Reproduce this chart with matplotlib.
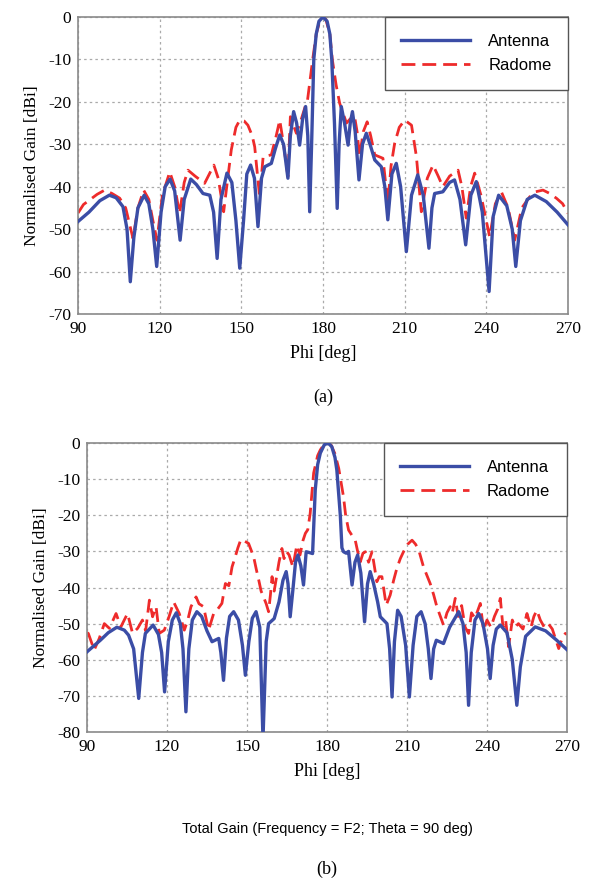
import matplotlib
matplotlib.use("Agg")
import matplotlib.pyplot as plt

plt.rcParams["axes.unicode_minus"] = False

# Panel (a) - antenna
phi_a_ant = [90, 94, 98, 101.5, 104, 106.5, 108, 109.2, 110.5, 112, 114.3, 116, 117.5, 118.9,
             120.5, 122, 123.8, 125.5, 127.5, 129, 131.4, 133.5, 135.9, 138.4, 139.8, 141.1,
             142.5, 144.7, 146.5, 148, 149.4, 150.8, 152, 153.4, 154.8, 156.1, 157.4, 158.6,
             161, 162.5, 164.1, 165.5, 167.1, 168, 169.2, 170.3, 171.4, 172.5, 173.6, 174.4,
             175.1, 175.8, 176.6, 177.5, 178.5, 180, 181.5, 182.5, 183.2, 184.2, 185.2, 185.9,
             186.7, 187.9, 189.2, 190, 190.8, 191.8, 193.2, 194.5, 195.9, 197.5, 199, 201.4,
             202.7, 203.8, 205.3, 206.9, 208.5, 210.6, 212.5, 214.8, 216.8, 218.9, 220, 221,
             224, 226.5, 228.3, 230.3, 232.4, 234.3, 236.3, 238.5, 241, 242.5, 244.5, 247.5,
             249.5, 250.8, 252.5, 255, 257.8, 262, 266, 270]
gain_a_ant = [-48.2, -46, -43.3, -42, -42.6, -44.7, -50, -62.4, -52, -45, -42, -44, -50, -58.8,
              -46, -40, -38.2, -41, -52.6, -43, -38.2, -39.5, -41.6, -42, -46, -56.9,
              -43, -36.8, -39, -48, -59.2, -48, -37, -34.9, -38, -49.4, -38, -35.3,
              -34.5, -31, -27.8, -30, -38, -28, -22.3, -25, -30.2, -24, -21.1, -28,
              -45.9, -30, -10, -4, -1, 0, -1, -4, -10, -25, -45.1, -30,
              -21.1, -25, -30.2, -25, -22.3, -27, -38.4, -30, -27.4, -30.5, -33.7, -35.3,
              -40, -47.8, -37, -34.5, -40, -55.3, -42, -37.2, -42, -54.5, -45, -41.6,
              -41.2, -39, -38.4, -43, -53.7, -42, -38.8, -46, -64.7, -47, -42, -44.5,
              -50, -58.8, -48, -43, -42, -43.5, -46, -49]

# Panel (a) - radome
phi_a_rad = [90, 92, 94.3, 97, 99.8, 102.5, 105.3, 107.5, 110.2, 112, 114.1, 116, 117.5, 119,
             121, 123.7, 125.5, 127.3, 129, 130.4, 133, 136.5, 139.9, 141.5, 143.5, 145,
             146.3, 148, 149.4, 151, 152.4, 154, 154.9, 156.7, 158, 161, 162.8, 164.1, 165.5,
             167.1, 168, 170.2, 172.1, 173.5, 174.3, 176.2, 177.5, 179, 180, 181, 182.5,
             183.4, 184.8, 186.1, 188.6, 190, 191.6, 192.5, 193.4, 194.8, 196.2, 197.5, 199,
             202, 203.8, 205, 206.3, 208, 210, 212.5, 214.3, 216.1, 218.3, 220.4, 222.3,
             224, 226.5, 229.6, 231, 232.6, 234.2, 235.7, 238, 241.2, 243.3, 245.5, 248,
             250.4, 253, 255.9, 258, 260.8, 263, 265.7, 268, 270]
gain_a_rad = [-46.2, -44.2, -43.1, -41.8, -40.8, -41.6, -42.7, -45, -52.2, -45, -40.8, -43, -48, -52.6,
              -42, -36.5, -40, -46.3, -39, -36.1, -37.5, -39.2, -34.9, -38, -45.9, -38,
              -31.3, -26, -24.3, -24.5, -25.5, -28, -30.6, -42.4, -32.9, -32.5, -28, -24.3, -30,
              -37.6, -23.5, -27.4, -23.9, -21, -19.6, -10, -4, -0.5, 0, -0.5, -4,
              -10, -16, -20.3, -25, -24, -23.5, -27, -32.9, -27, -24.7, -28, -32.5,
              -33.3, -43.9, -35, -29.8, -26, -24.3, -25.5, -32.9, -45.9, -38, -34.9, -37.5,
              -40, -37.5, -36.1, -40, -47.4, -40, -36.8, -42, -51.8, -44, -41.2, -45,
              -52.6, -45, -42.4, -41.2, -40.8, -41.5, -42.7, -44, -46.3]

# Panel (b) - antenna
phi_b_ant = [90, 95, 98, 101.2, 104, 105.6, 107.5, 109.4, 110.8, 111.9, 114.8, 116.8, 118, 119.1,
             120.5, 122, 123.5, 125, 126, 127.1, 128.2, 129.5, 131.2, 133, 135, 136.9, 139.4,
             140.2, 141.2, 142.3, 143.5, 145, 146.8, 148.3, 149.4, 150.7, 152, 153.4, 154.8,
             156, 157.2, 158.1, 160.2, 162, 163.5, 164.7, 165.4, 166.2, 167.3, 168.2, 169.1,
             170.2, 171.2, 172.2, 173.7, 174.6, 175.6, 176.5, 177.5, 179, 180.4, 181.8, 183,
             183.7, 185, 185.6, 186.2, 187.2, 188.1, 189.4, 190.5, 191.5, 192.7, 194.1, 195.2,
             196.2, 197.5, 199, 200, 202.5, 203.5, 204.4, 205.3, 206.5, 207.8, 209.5, 210.9,
             212.3, 213.7, 215.3, 216.8, 218, 219, 220, 221, 223.7, 226, 229.4, 231, 232.2,
             233.1, 234.1, 235.5, 236.9, 238.5, 240.2, 241.2, 242.3, 243.5, 245, 247.5, 249.5,
             251.2, 252.5, 254.5, 258.1, 262, 266, 270]
gain_b_ant = [-57.8, -54.6, -52.5, -51, -51.8, -53.2, -57, -70.7, -58, -52.7, -50.4, -53, -58, -68.9,
              -55, -49, -47, -50, -57, -74.4, -57, -49, -46.7, -48, -52, -55, -54.1,
              -58, -65.7, -54, -48, -46.7, -49, -56, -64.3, -55, -48.5, -46.7, -51,
              -82, -55, -50, -48.6, -44, -38, -35.6, -39, -48.1, -40, -33, -31,
              -34, -39.3, -30.1, -30.4, -30.6, -13, -6, -2.8, -0.5, 0, -1, -4,
              -7.5, -20, -29, -30.1, -30.5, -30, -39.3, -33, -31, -36, -49.5, -39,
              -35.6, -39, -44, -48.1, -50, -57, -70.3, -55, -46.3, -48, -56, -70.3,
              -56, -48, -46.7, -50, -57, -65.2, -57, -54.6, -55.5, -51, -46.7, -50, -58,
              -72.6, -58, -49, -47.2, -50, -57, -65.2, -56, -51.5, -50.4, -52.5, -60,
              -72.6, -62, -53.5, -50.9, -52, -54.5, -57.2]

# Panel (b) - radome
phi_b_rad = [90, 90.5, 92.7, 94.6, 96.5, 98.4, 100.9, 102.7, 105.2, 107.1, 109, 110.8, 112, 113.4,
             114.6, 115.9, 117.1, 119, 120.8, 122.5, 124.6, 126.5, 127.8, 129, 130.9, 132,
             133.7, 135.6, 137.5, 139, 140.6, 141.9, 143.2, 144.4, 145.6, 146.6, 147.7, 149.2,
             150.6, 152.5, 153.5, 154.4, 155.3, 156.2, 157.2, 158.1, 158.8, 159.4, 160.2, 161,
             162, 163.1, 163.9, 164.8, 165.8, 167.2, 168.7, 169.9, 171, 171.9, 172.8, 173.7,
             175, 176.5, 177.5, 179, 180.4, 181.5, 183, 184.4, 186.2, 187, 188.1, 189.3, 190.6,
             191.5, 192.5, 193.5, 194.4, 195.6, 196.9, 198.7, 199.6, 200.6, 201.4, 202.2,
             203.7, 205, 206.2, 207.5, 208.7, 210.3, 211.9, 213.2, 214.4, 216.2, 218.7, 220,
             221.2, 223.7, 225, 226.2, 227, 228.1, 229.2, 230.5, 231.8, 233.1, 234.2, 235.5,
             237.5, 238.7, 240, 241.5, 242.8, 244, 245, 246, 247, 248.1, 249.5, 250.5, 251.8,
             253.5, 255, 256.5, 257.6, 258.7, 260, 261.5, 263, 264.5, 266.9, 268.2, 269.4, 270]
gain_b_rad = [-52.5, -52.7, -57.3, -54.1, -50, -51.3, -47.2, -50.9, -47.2, -52.7, -51.3, -49, -52, -43.5,
              -48.1, -45.3, -52.7, -51.8, -48, -44, -47.2, -51.8, -49, -45.3, -42.6, -44.5,
              -45.3, -51.8, -47.2, -46, -44.4, -38.9, -39.5, -34.3, -31.5, -29, -26.7, -27.2,
              -27.8, -31.5, -35, -37.9, -41, -42.6, -44.5, -46.7, -42, -37, -41, -37.5,
              -33, -29.2, -32, -30, -31, -34.3, -28.3, -31, -27, -25, -24, -19.5,
              -8.3, -3.5, -1.9, -0.3, 0, -0.5, -3, -7, -14.9, -20, -24.1, -25.5, -26.9,
              -30, -32.9, -30.5, -30.1, -33, -30.1, -38.4, -37, -37, -41, -44.9,
              -42.1, -38, -34.7, -32, -30.1, -28, -26.9, -28, -29.6, -34.3, -38.9, -42,
              -45.3, -50.4, -47, -45.3, -47, -43, -48, -45, -51, -52.7, -47, -48.5,
              -44.4, -51.8, -49, -51, -48, -46, -43, -51, -49, -56.4, -49, -51, -50,
              -51.5, -47.2, -51, -48, -46.3, -49, -51, -50, -51.5, -56.9, -54, -52.7, -53]

blue = "#3b4da6"
red = "#ee2b2b"
serif = "Liberation Serif"
sans = "Liberation Sans"

fig = plt.figure(figsize=(5.97, 8.86), dpi=100)
ax1 = fig.add_axes([0.1307, 0.6456, 0.8208, 0.3352])
ax2 = fig.add_axes([0.1457, 0.1738, 0.8040, 0.3262])

panels = [
    (ax1, phi_a_ant, gain_a_ant, phi_a_rad, gain_a_rad, -70),
    (ax2, phi_b_ant, gain_b_ant, phi_b_rad, gain_b_rad, -80),
]

for ax, pa, ga, pr, gr, ymin in panels:
    ax.plot(pa, ga, color=blue, lw=2.4, label="Antenna", zorder=3)
    ax.plot(pr, gr, color=red, lw=2.0, ls=(0, (5, 2.5)), label="Radome", zorder=2)
    ax.set_xlim(90, 270)
    ax.set_ylim(ymin, 0)
    ax.set_xticks(range(90, 271, 30))
    ax.set_yticks(range(ymin, 1, 10))
    ax.grid(True, ls=(0, (2, 2.5)), color="#aaaaaa", lw=0.9)
    ax.tick_params(length=0, pad=5, labelsize=12.5)
    for lab in ax.get_xticklabels() + ax.get_yticklabels():
        lab.set_fontfamily(serif)
    for sp in ax.spines.values():
        sp.set_color("#8a8a8a")
        sp.set_linewidth(1.2)
    ax.set_xlabel("Phi [deg]", fontfamily=serif, fontsize=13, labelpad=6)
    ax.set_ylabel("Normalised Gain [dBi]", fontfamily=serif, fontsize=12.5, labelpad=6)
    leg = ax.legend(loc="upper right", fancybox=False, framealpha=1, borderaxespad=0,
                    handlelength=4.1, handletextpad=1.1, borderpad=1.0, labelspacing=0.55,
                    prop={"family": sans, "size": 12})
    leg.get_frame().set_edgecolor("#555555")
    leg.get_frame().set_linewidth(1.0)

fig.text(0.541, 1 - 397 / 886, "(a)", ha="center", va="center", fontfamily=serif, fontsize=13)
fig.text(0.548, 1 - 829 / 886, "Total Gain (Frequency = F2; Theta = 90 deg)", ha="center",
         va="center", fontfamily=sans, fontsize=10.5)
fig.text(0.548, 1 - 869 / 886, "(b)", ha="center", va="center", fontfamily=serif, fontsize=13)

fig.savefig("out.png", dpi=100)
